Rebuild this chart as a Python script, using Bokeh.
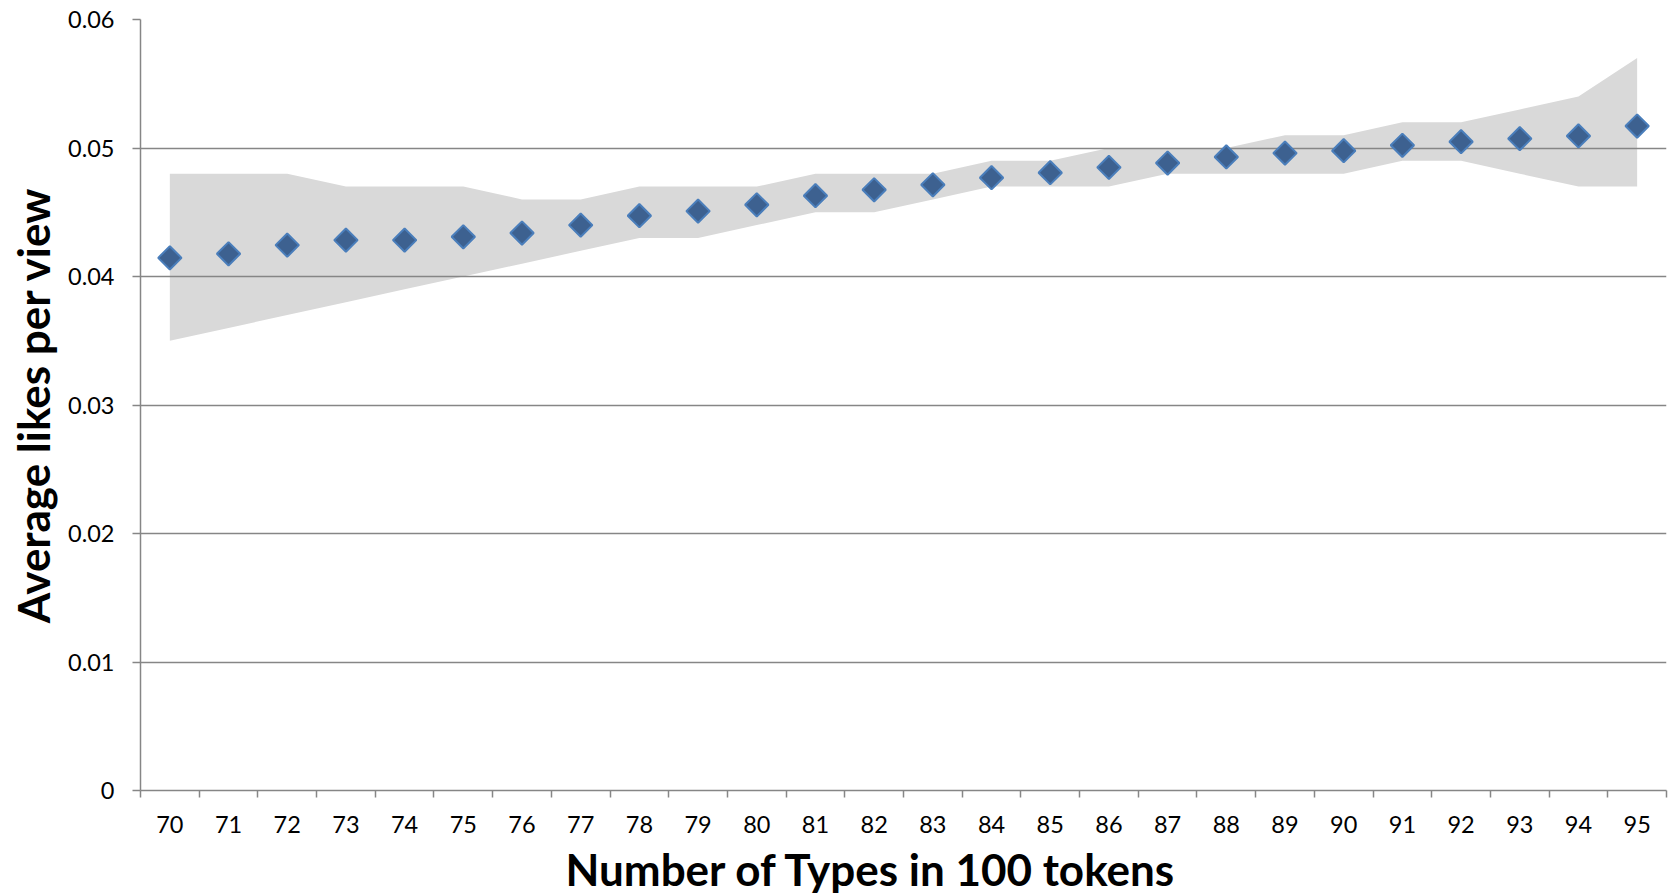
import numpy as np
from bokeh.plotting import figure
from bokeh.models import Range1d, FixedTicker, Title
from bokeh.embed import file_html
from bokeh.resources import INLINE

# ---- data ----
types = list(range(70, 96))
mean_likes = [0.04145, 0.04177, 0.04244, 0.04283, 0.04283, 0.04309, 0.04338, 0.04400,
              0.04473, 0.04509, 0.04558, 0.04629, 0.04675, 0.04714, 0.04769, 0.04808,
              0.04849, 0.04883, 0.04930, 0.04960, 0.04979, 0.05021, 0.05049, 0.05073,
              0.05094, 0.05171]
band_upper = [0.048, 0.048, 0.048, 0.047, 0.047, 0.047, 0.046, 0.046, 0.047, 0.047,
              0.047, 0.048, 0.048, 0.048, 0.049, 0.049, 0.050, 0.050, 0.050, 0.051,
              0.051, 0.052, 0.052, 0.053, 0.054, 0.057]
band_lower = [0.035, 0.036, 0.037, 0.038, 0.039, 0.040, 0.041, 0.042, 0.043, 0.043,
              0.044, 0.045, 0.045, 0.046, 0.047, 0.047, 0.047, 0.048, 0.048, 0.048,
              0.048, 0.049, 0.049, 0.048, 0.047, 0.047]
y_ticks = [0, 0.01, 0.02, 0.03, 0.04, 0.05, 0.06]
y_tick_labels = ["0", "0.01", "0.02", "0.03", "0.04", "0.05", "0.06"]
x_title = "Number of Types in 100 tokens"
y_title = "Average likes per view"

FONT = "Lato"
GRID = "#868686"

p = figure(frame_width=1526, frame_height=771,
           min_border_left=140, min_border_right=11, min_border_top=19, min_border_bottom=100,
           x_range=Range1d(types[0] - 0.5, types[-1] + 0.5),
           y_range=Range1d(y_ticks[0], y_ticks[-1]),
           output_backend="svg", toolbar_location=None,
           background_fill_color="white", border_fill_color="white")
p.outline_line_color = None

# confidence band
p.varea(x=types, y1=band_lower, y2=band_upper, fill_color="#D9D9D9", level="image")

# means
p.scatter(types, mean_likes, marker="square", angle=np.pi / 4, size=16.5,
          fill_color="#3D6190", line_color="#4A7EBB", line_width=2)

# grid
p.xgrid.visible = False
p.ygrid.ticker = FixedTicker(ticks=y_ticks)
p.ygrid.grid_line_color = GRID
p.ygrid.grid_line_width = 1.5

# y axis
ya = p.yaxis[0]
ya.ticker = FixedTicker(ticks=y_ticks)
ya.major_label_overrides = dict(zip(y_ticks, y_tick_labels))
ya.axis_line_color = GRID
ya.axis_line_width = 1.5
ya.major_tick_line_color = GRID
ya.major_tick_line_width = 1.5
ya.major_tick_out = 8
ya.major_tick_in = 0
ya.minor_tick_line_color = None
ya.major_label_standoff = 18
ya.major_label_text_font = FONT
ya.major_label_text_font_size = "23.5px"
ya.major_label_text_color = "black"
ya.axis_label = y_title
ya.axis_label_text_font = FONT
ya.axis_label_text_font_style = "bold"
ya.axis_label_text_font_size = "44px"
ya.axis_label_text_color = "black"
ya.axis_label_standoff = 6

# x axis
xa = p.xaxis[0]
xa.ticker = FixedTicker(ticks=types,
                        minor_ticks=[t - 0.5 for t in types] + [types[-1] + 0.5])
xa.axis_line_color = GRID
xa.axis_line_width = 1.5
xa.major_tick_line_color = None
xa.major_tick_out = 0
xa.major_tick_in = 0
xa.minor_tick_line_color = GRID
xa.minor_tick_line_width = 1.5
xa.minor_tick_out = 7
xa.minor_tick_in = 0
xa.major_label_standoff = 18
xa.major_label_text_font = FONT
xa.major_label_text_font_size = "23.5px"
xa.major_label_text_color = "black"

# x axis title, below the axis, shifted left of centre as in the reference
p.add_layout(Title(text=x_title, align="left", offset=425, standoff=10,
                   text_font=FONT, text_font_style="bold", text_font_size="44px",
                   text_color="black"), "below")

open("out.html", "w").write(file_html(p, INLINE))
